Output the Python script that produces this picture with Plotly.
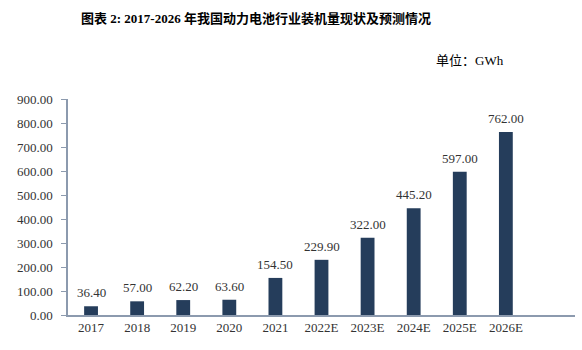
import plotly.graph_objects as go

categories = ["2017", "2018", "2019", "2020", "2021", "2022E", "2023E", "2024E", "2025E", "2026E"]
values = [36.40, 57.00, 62.20, 63.60, 154.50, 229.90, 322.00, 445.20, 597.00, 762.00]
title_text = "图表 2: 2017-2026 年我国动力电池行业装机量现状及预测情况"
unit_text = "单位：GWh"

font_fam = "Liberation Serif, Times New Roman, Noto Serif CJK SC, Noto Sans CJK SC, serif"
xs = list(range(len(categories)))

fig = go.Figure()
fig.add_trace(go.Bar(
    x=xs,
    y=values,
    width=0.3,
    marker=dict(color="#253D5B", line=dict(width=0)),
    hoverinfo="skip",
))

annotations = [
    dict(x=x, y=v, xref="x", yref="y", text=f"{v:.2f}", showarrow=False,
         xanchor="center", yanchor="bottom", yshift=4,
         font=dict(family=font_fam, size=13, color="#333333"))
    for x, v in zip(xs, values)
]
annotations += [
    dict(text="<b>" + title_text + "</b>", xref="paper", yref="paper",
         x=(256 - 68) / 507, y=1 + (99 - 18) / 216, xanchor="center", yanchor="middle",
         showarrow=False, font=dict(family="Liberation Serif, Noto Sans CJK SC, serif", size=13, color="#000000")),
    dict(text=unit_text, xref="paper", yref="paper",
         x=(506 - 68) / 507, y=1 + (99 - 61) / 216, xanchor="right", yanchor="middle",
         showarrow=False, font=dict(family="Liberation Serif, Noto Sans CJK SC, serif", size=13, color="#000000")),
]

fig.update_layout(
    width=582, height=350,
    margin=dict(l=68, r=7, t=99, b=35),
    paper_bgcolor="white", plot_bgcolor="white",
    showlegend=False,
    font=dict(family=font_fam, size=13, color="#333333"),
    xaxis=dict(
        tickmode="array",
        tickvals=xs,
        ticktext=categories,
        range=[-0.5, 10.5],
        showline=True, linecolor="#8C9AAE", linewidth=1.5,
        ticks="", showgrid=False, zeroline=False,
        tickfont=dict(family=font_fam, size=13, color="#333333"),
    ),
    yaxis=dict(
        range=[0, 900], dtick=100, tickformat=".2f",
        showline=True, linecolor="#8C9AAE", linewidth=1.5,
        ticks="outside", ticklen=5, tickcolor="#8C9AAE",
        ticklabelstandoff=6,
        showgrid=False, zeroline=False,
        tickfont=dict(family=font_fam, size=13, color="#333333"),
    ),
    annotations=annotations,
)

fig.write_html("out.html")
